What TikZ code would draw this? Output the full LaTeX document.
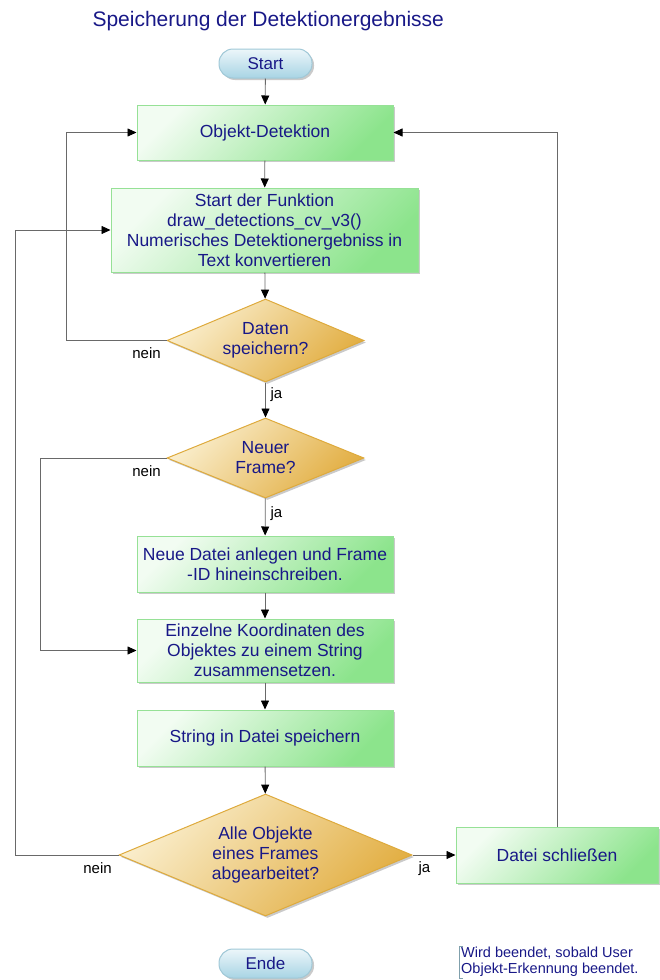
\documentclass[tikz,border=0pt]{standalone}
\usepackage{fontspec}
\setmainfont{Liberation Sans}
\usetikzlibrary{shapes.geometric,shadows,arrows.meta}
\definecolor{txtblue}{RGB}{24,24,135}
\definecolor{greenlight}{RGB}{242,252,242}
\definecolor{greendark}{RGB}{140,228,140}
\definecolor{greenborder}{RGB}{150,225,150}
\definecolor{goldlight}{RGB}{250,238,205}
\definecolor{golddark}{RGB}{226,174,66}
\definecolor{goldborder}{RGB}{222,170,60}
\definecolor{bluelight}{RGB}{236,246,250}
\definecolor{bluedark}{RGB}{168,212,228}
\definecolor{blueborder}{RGB}{160,200,215}
\definecolor{linegray}{RGB}{105,105,105}
\begin{document}
\begin{tikzpicture}[x=1pt,y=-1pt,
  every node/.style={font=\fontsize{17.5}{20}\selectfont, text=txtblue, align=center},
  boxshadow/.style={drop shadow={shadow xshift=2pt, shadow yshift=-2pt, fill=black!35, opacity=0.6}},
  procbox/.style={rectangle, draw=greenborder, line width=1pt, top color=greenlight,
    bottom color=greendark, shading angle=45, boxshadow, inner sep=0pt},
  decision/.style={diamond, draw=goldborder, line width=1pt, top color=goldlight,
    bottom color=golddark, shading angle=45, boxshadow, inner sep=0pt, shape aspect=2.4},
  terminal/.style={rectangle, rounded corners=14pt, draw=blueborder, line width=1pt,
    top color=bluelight, bottom color=bluedark, boxshadow, minimum width=93pt,
    minimum height=29pt, inner sep=0pt, font=\fontsize{17}{19}\selectfont},
  flow/.style={draw=linegray, line width=0.8pt, -{Triangle[length=9pt,width=8pt,color=black]}},
  lbl/.style={text=black, font=\fontsize{15}{17}\selectfont}
]
\useasboundingbox (0,0) rectangle (659,980);

% title
\node[anchor=west, font=\fontsize{21}{24}\selectfont] (title) at (89,21) {Speicherung der Detektionergebnisse};

% terminals
\node[terminal] (start) at (265.5,63.5) {Start};
\node[terminal] (ende) at (265.5,963.5) {Ende};

% process boxes
\node[procbox, minimum width=256pt, minimum height=55pt] (objdet) at (265,132.5) {Objekt-Detektion};
\node[procbox, minimum width=307pt, minimum height=84pt] (func) at (264.5,230)
  {Start der Funktion\\draw\_detections\_cv\_v3()\\Numerisches Detektionergebniss in\\Text konvertieren};
\node[procbox, minimum width=256pt, minimum height=56pt] (newfile) at (265,564)
  {Neue Datei anlegen und Frame\\-ID hineinschreiben.};
\node[procbox, minimum width=256pt, minimum height=63pt] (coords) at (265,650.5)
  {Einzelne Koordinaten des\\Objektes zu einem String\\zusammensetzen.};
\node[procbox, minimum width=256pt, minimum height=56pt] (store) at (265,738)
  {String in Datei speichern};
\node[procbox, minimum width=202pt, minimum height=56pt] (close) at (557,855)
  {Datei schließen};

% decisions
\node[decision, minimum width=197pt, minimum height=83pt] (save) at (265.5,340.5)
  {Daten\\speichern?};
\node[decision, minimum width=197pt, minimum height=80pt] (frame) at (265.5,458)
  {Neuer\\Frame?};
\node[decision, minimum width=293pt, minimum height=122pt] (done) at (265.5,855)
  {Alle Objekte\\eines Frames\\abgearbeitet?};

% main flow
\draw[flow] (start) -- (objdet);
\draw[flow] (objdet) -- (func);
\draw[flow] (func) -- (save);
\draw[flow] (save) -- (frame);
\draw[flow] (frame) -- (newfile);
\draw[flow] (newfile) -- (coords);
\draw[flow] (coords) -- (store);
\draw[flow] (store) -- (done);
\draw[flow] (done) -- (close);

% loops back
\draw[flow] (save.west) -- ++(-100,0) |- (objdet.west);
\draw[flow] (frame.west) -- ++(-126,0) |- (coords.west);
\draw[flow] (done.west) -- ++(-103,0) |- (func.west);
\draw[flow] (close.north) |- (objdet.east);

% branch labels
\path (save.west) ++(-20,12.5) node[lbl] (n1) {nein};
\path (save.south) ++(11,12) node[lbl] (j1) {ja};
\path (frame.west) ++(-20,13) node[lbl] (n2) {nein};
\path (frame.south) ++(11,15) node[lbl] (j2) {ja};
\path (done.west) ++(-21,13) node[lbl] (n3) {nein};
\path (done.east) ++(12,14) node[lbl] (j3) {ja};

% annotation
\node[anchor=north west, align=left, inner sep=1pt, font=\fontsize{14.5}{16}\selectfont] (note) at (460,946)
  {Wird beendet, sobald User\\Objekt-Erkennung beendet.};
\draw[blueborder!80!black, line width=0.8pt] ([xshift=3pt]note.north west) -- ([xshift=-1pt]note.north west)
  -- ([xshift=-1pt]note.south west) -- ([xshift=3pt]note.south west);
\end{tikzpicture}
\end{document}
